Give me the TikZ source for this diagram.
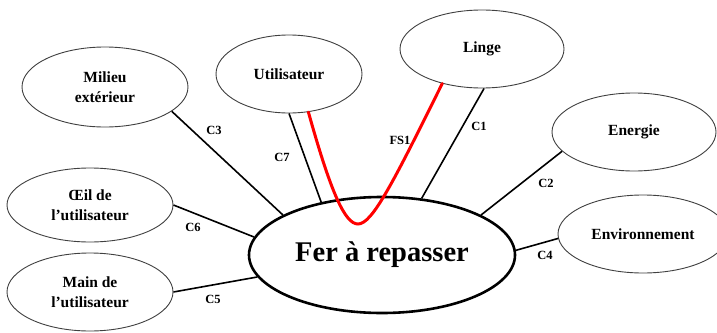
\documentclass[tikz,border=0pt]{standalone}
\usepackage{fontspec}
\setmainfont{Liberation Serif}
\usetikzlibrary{shapes.geometric}
\tikzset{
  side/.style={ellipse,draw=black!75,line width=0.9pt,fill=white,inner sep=0pt,
    align=center,font=\fontsize{15.5}{19.5}\selectfont\bfseries},
  central/.style={ellipse,draw=black,line width=2.6pt,fill=white,inner sep=0pt,
    font=\fontsize{28.5}{32}\selectfont\bfseries},
  conn/.style={draw=black,line width=1.6pt},
  fsline/.style={draw=red,line width=3pt,line cap=round},
  clabel/.style={font=\fontsize{12.5}{14}\selectfont\bfseries,inner sep=0pt}
}
\begin{document}
\begin{tikzpicture}[x=1pt,y=-1pt]
\useasboundingbox (0,0) rectangle (717,332);
\node[central,minimum width=266pt,minimum height=116pt] (fer) at (382,255) {Fer à repasser};
\node[side,minimum width=166pt,minimum height=80pt] (milieu) at (105,87) {Milieu\\extérieur};
\node[side,minimum width=146pt,minimum height=78pt] (util) at (289,74) {Utilisateur};
\node[side,minimum width=164pt,minimum height=78pt] (linge) at (482,49) {Linge};
\node[side,minimum width=164pt,minimum height=78pt] (energie) at (634,132) {Energie};
\node[side,minimum width=170pt,minimum height=78pt] (env) at (643,234) {Environnement};
\node[side,minimum width=166pt,minimum height=74pt] (oeil) at (90,205) {Œil de\\l’utilisateur};
\node[side,minimum width=166pt,minimum height=78pt] (main) at (90,292) {Main de\\l’utilisateur};
% connectors
\draw[conn] (milieu.-20.5) -- (fer.158.5);
\draw[conn] (util.-90) -- (fer.139);
\draw[conn] (linge.-87) -- (fer.55);
\draw[conn] (energie.195.7) -- (fer.22.4);
\draw[conn] (env.183.7) -- (fer.2.6);
\draw[conn] (oeil.0.7) -- (fer.172);
\draw[conn] (main.0) -- (fer.190.4);
% FS1 red curve
\coordinate (fsbot) at (358,224);
\draw[fsline] (util.-63) .. controls (331,193) and (345,224) .. (fsbot)
  .. controls (372,224) and (392,185) .. (linge.221);
% labels
\node[clabel] (c3) at (214,130) {C3};
\node[clabel] (c7) at (282,157) {C7};
\node[clabel] (fs1) at (400,140) {FS1};
\node[clabel] (c1) at (479,126) {C1};
\node[clabel] (c2) at (546,183) {C2};
\node[clabel] (c4) at (545,255) {C4};
\node[clabel] (c6) at (193,227) {C6};
\node[clabel] (c5) at (213,299) {C5};
\end{tikzpicture}
\end{document}
